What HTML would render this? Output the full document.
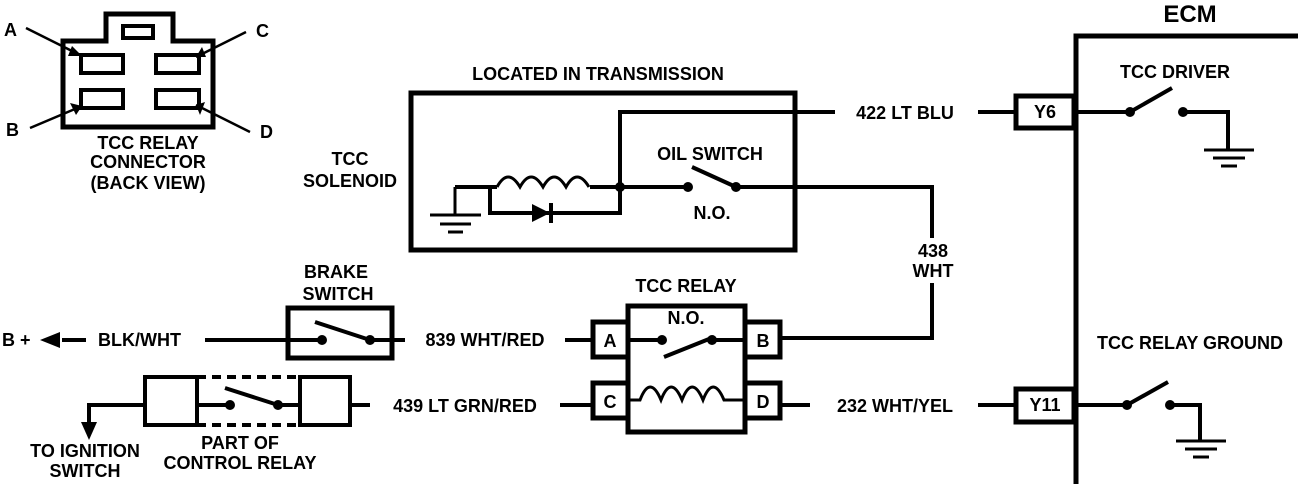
<!DOCTYPE html>
<html><head><meta charset="utf-8"><style>
html,body{margin:0;padding:0;background:#fff;}
svg{display:block;}
text{font-family:"Liberation Sans",sans-serif;font-weight:bold;font-size:18px;fill:#000;}
</style></head><body>
<svg width="1312" height="484" viewBox="0 0 1312 484" xmlns="http://www.w3.org/2000/svg">
<g fill="none" stroke="#000" stroke-width="4">
<!-- connector -->
<path d="M63 127 V41 H106 V14 H173 V41 H213 V127 Z" stroke-width="5"/>
<rect x="123" y="26" width="30" height="12"/>
<rect x="81" y="55" width="42" height="18"/>
<rect x="156" y="55" width="43" height="18"/>
<rect x="81" y="90" width="42" height="18"/>
<rect x="156" y="90" width="43" height="18"/>
<path d="M26 28 L82 56 M246 32 L196 57 M30 128 L82 106 M250 132 L196 105" stroke-width="2.5"/>
</g>
<g fill="#000">
<path d="M82 56 L72 46 L68 56 Z M196 57 L202 47 L206 57 Z M82 106 L70 103 L76 115 Z M196 105 L205 102 L200 115 Z"/>
</g>
<text x="4" y="36">A</text><text x="256" y="37">C</text>
<text x="6" y="136">B</text><text x="260" y="138">D</text>
<text x="148" y="149" text-anchor="middle">TCC RELAY</text>
<text x="148" y="168" text-anchor="middle">CONNECTOR</text>
<text x="148" y="189" text-anchor="middle">(BACK VIEW)</text>
<text x="350" y="165" text-anchor="middle">TCC</text>
<text x="350" y="187" text-anchor="middle">SOLENOID</text>

<!-- transmission box -->
<text x="598" y="80" text-anchor="middle">LOCATED IN TRANSMISSION</text>
<g fill="none" stroke="#000" stroke-width="4">
<rect x="411" y="93" width="384" height="157" stroke-width="5"/>
<path d="M620 187 V112 H835 M978 112 H1015"/>
<path d="M455 187 V215 M430 215 H481 M440 224 H471 M448 232 H463" stroke-width="3"/>
<path d="M455 187 H497 M590 187 H620"/>
<path d="M497 187 q11 -20 23 0 q11 -20 23 0 q11 -20 23 0 q11 -20 23 0" stroke-width="3"/>
<path d="M490 187 V213 H620 V187"/>
<path d="M551 203 V223"/>
<path d="M620 187 H688 M736 187 H932 V338 H780 M692 167 L736 187"/>
</g>
<path d="M532 204 L550 213 L532 222 Z" fill="#000"/>
<circle cx="620" cy="187" r="5"/><circle cx="688" cy="187" r="5"/><circle cx="736" cy="187" r="5"/>
<text x="710" y="160" text-anchor="middle">OIL SWITCH</text>
<text x="712" y="219" text-anchor="middle">N.O.</text>
<text x="905" y="119" text-anchor="middle">422  LT BLU</text>
<rect x="905" y="238" width="55" height="45" fill="#fff"/>
<text x="933" y="257" text-anchor="middle">438</text>
<text x="933" y="277" text-anchor="middle">WHT</text>

<!-- ECM -->
<g fill="none" stroke="#000" stroke-width="5">
<path d="M1076 484 V36 H1298"/>
<rect x="1016" y="96" width="58" height="32"/>
<rect x="1016" y="389" width="58" height="33"/>
</g>
<text x="1190" y="22" text-anchor="middle" style="font-size:24px">ECM</text>
<text x="1045" y="118" text-anchor="middle">Y6</text>
<text x="1045" y="411" text-anchor="middle">Y11</text>
<text x="1175" y="78" text-anchor="middle">TCC DRIVER</text>
<text x="1190" y="349" text-anchor="middle">TCC RELAY GROUND</text>
<g fill="none" stroke="#000" stroke-width="4">
<path d="M1076 112 H1130 M1183 112 H1228 V150 M1172 88 L1130 112"/>
<path d="M1204 150 H1254 M1213 158 H1245 M1221 166 H1237" stroke-width="3"/>
<path d="M1076 405 H1127 M1170 405 H1200 V441 M1127 405 L1168 382"/>
<path d="M1176 441 H1226 M1185 449 H1217 M1193 457 H1209" stroke-width="3"/>
<path d="M778 405 H810 M978 405 H1016"/>
</g>
<circle cx="1130" cy="112" r="5"/><circle cx="1183" cy="112" r="5"/>
<circle cx="1127" cy="405" r="5"/><circle cx="1170" cy="405" r="5"/>
<text x="895" y="412" text-anchor="middle">232 WHT/YEL</text>

<!-- TCC relay -->
<text x="686" y="292" text-anchor="middle">TCC RELAY</text>
<g fill="none" stroke="#000" stroke-width="5">
<rect x="628" y="306" width="117" height="126"/>
<rect x="593" y="322" width="35" height="35"/>
<rect x="593" y="383" width="35" height="35"/>
<rect x="745" y="322" width="35" height="35"/>
<rect x="745" y="383" width="35" height="35"/>
</g>
<text x="610" y="347" text-anchor="middle">A</text>
<text x="610" y="408" text-anchor="middle">C</text>
<text x="763" y="347" text-anchor="middle">B</text>
<text x="763" y="408" text-anchor="middle">D</text>
<g fill="none" stroke="#000" stroke-width="4">
<path d="M628 340 H662 M712 340 H745 M664 357 L714 337"/>
<path d="M628 400 H640 q10 -26 21 0 q10 -26 21 0 q10 -26 21 0 q10 -26 21 0 H745" stroke-width="3"/>
<path d="M565 340 H593 M560 405 H593"/>
</g>
<circle cx="662" cy="340" r="5"/><circle cx="712" cy="340" r="5"/>
<text x="686" y="324" text-anchor="middle">N.O.</text>

<!-- brake switch -->
<text x="336" y="278" text-anchor="middle">BRAKE</text>
<text x="338" y="300" text-anchor="middle">SWITCH</text>
<g fill="none" stroke="#000" stroke-width="4">
<rect x="288" y="308" width="104" height="50" stroke-width="5"/>
<path d="M205 340 H322 M370 340 H405 M315 322 L370 340"/>
<path d="M62 340 H86"/>
</g>
<circle cx="322" cy="340" r="5"/><circle cx="370" cy="340" r="5"/>
<path d="M40 340 L60 332 L60 348 Z"/>
<text x="2" y="346">B +</text>
<text x="98" y="346">BLK/WHT</text>
<text x="485" y="346" text-anchor="middle">839 WHT/RED</text>

<!-- control relay -->
<g fill="none" stroke="#000" stroke-width="4">
<rect x="145" y="377" width="52" height="48"/>
<rect x="300" y="377" width="50" height="48"/>
<path d="M197 377 H300 M197 425 H300" stroke-dasharray="9 6"/>
<path d="M197 405 H230 M278 405 H300 M225 388 L278 405 M350 405 H370 M145 405 H89 V425"/>
</g>
<circle cx="230" cy="405" r="5"/><circle cx="278" cy="405" r="5"/>
<path d="M81 422 L97 422 L89 440 Z"/>
<text x="465" y="412" text-anchor="middle">439 LT GRN/RED</text>
<text x="85" y="457" text-anchor="middle">TO IGNITION</text>
<text x="85" y="477" text-anchor="middle">SWITCH</text>
<text x="240" y="449" text-anchor="middle">PART OF</text>
<text x="240" y="469" text-anchor="middle">CONTROL RELAY</text>
</svg>
</body></html>
